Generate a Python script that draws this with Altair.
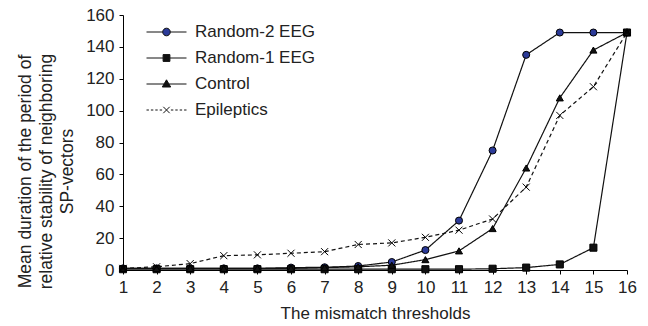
import altair as alt
import pandas as pd

thresholds = list(range(1, 17))
series_names = ["Random-2 EEG", "Random-1 EEG", "Control", "Epileptics"]
random2 = [1, 1, 1, 1, 1, 1.5, 1.7, 2.5, 5, 12.5, 31, 75, 135, 149, 149, 149]
random1 = [0.5, 0.5, 0.5, 0.5, 0.5, 0.5, 0.5, 0.5, 0.5, 0.5, 0.5, 0.8, 1.5, 3.5, 14, 149]
control = [1, 1, 1, 1, 1, 1, 1.5, 2, 3, 6.5, 12, 26, 64, 108, 138, 149]
epileptics = [1, 2, 4, 9, 9.5, 10.5, 11.5, 16, 17, 20.5, 25, 32, 52, 97, 115, 149]

y_ticks = [0, 20, 40, 60, 80, 100, 120, 140, 160]
x_title = "The mismatch thresholds"
y_title = ["Mean duration of the period of", "relative stability of neighboring", "SP-vectors"]

rows = []
for name, vals in zip(series_names, [random2, random1, control, epileptics]):
    for t, v in zip(thresholds, vals):
        rows.append({"threshold": t, "value": v, "series": name})
df = pd.DataFrame(rows)

X_PATH = "M-1,-1L1,1M-1,1L1,-1"
marker_shapes = ["circle", "square", "triangle-up", X_PATH]
marker_fills = ["#2b3a98", "#111111", "#111111", "transparent"]
dash_range = [[1, 0], [1, 0], [1, 0], [4, 3]]

legend_shapes = [
    "M-1,0L-0.19,0M0.19,0L1,0M0.19,0A0.19,0.19,0,1,1,-0.19,0A0.19,0.19,0,1,1,0.19,0Z",
    "M-1,0L-0.17,0M0.17,0L1,0M-0.17,-0.17L0.17,-0.17L0.17,0.17L-0.17,0.17Z",
    "M-1,0L-0.12,0M0.12,0L1,0M0,-0.21L0.21,0.15L-0.21,0.15Z",
    "M-1,0L-0.88,0M-0.78,0L-0.66,0M-0.56,0L-0.44,0M-0.34,0L-0.22,0"
    "M0.22,0L0.34,0M0.44,0L0.56,0M0.66,0L0.78,0M0.88,0L1,0"
    "M-0.16,-0.16L0.16,0.16M-0.16,0.16L0.16,-0.16",
]

FONT = "Liberation Sans"
TXT = "#222222"

x_enc = alt.X(
    "threshold:Q",
    scale=alt.Scale(domain=[1, 16], nice=False, zero=False),
    axis=alt.Axis(
        values=thresholds, format="d", tickSize=4, labelPadding=5,
        labelFontSize=17, labelColor=TXT, labelFont=FONT,
        title=x_title, titleFontSize=17, titleFontWeight="normal",
        titleColor=TXT, titleFont=FONT, titlePadding=10,
        grid=False, domainColor="black", tickColor="black",
        labelFlush=False, labelOverlap=False,
    ),
)
y_enc = alt.Y(
    "value:Q",
    scale=alt.Scale(domain=[0, 160], nice=False),
    axis=alt.Axis(
        values=y_ticks, tickSize=4, labelPadding=5,
        labelFontSize=17, labelColor=TXT, labelFont=FONT,
        title=y_title, titleFontSize=17.5, titleFontWeight="normal",
        titleColor=TXT, titleFont=FONT, titleLineHeight=21,
        titleAngle=270, titleBaseline="middle", titleAlign="center",
        titleX=-98, titleY=156,
        grid=False, domainColor="black", tickColor="black",
        labelFlush=False, labelOverlap=False,
    ),
)

lines = alt.Chart(df).mark_line(color="#111111", strokeWidth=1.2).encode(
    x=x_enc, y=y_enc,
    strokeDash=alt.StrokeDash("series:N", scale=alt.Scale(domain=series_names, range=dash_range), legend=None),
)

point_layers = []
for name, shp, fll in zip(series_names, marker_shapes, marker_fills):
    point_layers.append(
        alt.Chart(df).transform_filter(alt.datum.series == name).mark_point(
            filled=True, fill=fll, stroke="black", strokeWidth=1, size=50, opacity=1, shape=shp
        ).encode(x=x_enc, y=y_enc)
    )

leg = dict(
    title=None, orient="none", legendX=23, legendY=5,
    symbolSize=1600, symbolStrokeWidth=1, symbolStrokeColor="black",
    labelFontSize=17, labelFont=FONT, labelColor=TXT, labelOffset=8,
    labelLimit=400, rowPadding=2, clipHeight=24,
)
legend_layer = alt.Chart(df).transform_filter("datum.value < -1000").mark_point(
    filled=True, stroke="black", strokeWidth=1, opacity=1
).encode(
    x=x_enc, y=y_enc,
    shape=alt.Shape("series:N", scale=alt.Scale(domain=series_names, range=legend_shapes), legend=alt.Legend(**leg)),
    fill=alt.Fill("series:N", scale=alt.Scale(domain=series_names, range=marker_fills), legend=alt.Legend(**leg)),
    stroke=alt.Stroke("series:N", scale=alt.Scale(domain=series_names, range=["#111111"] * 4), legend=alt.Legend(**leg)),
)

chart = alt.layer(lines, *point_layers, legend_layer).resolve_scale(
    shape="independent", fill="independent", stroke="independent", strokeDash="independent"
).properties(
    width=504, height=255,
    padding={"left": 123, "top": 15, "right": 21, "bottom": 56},
    autosize=alt.AutoSizeParams(type="none"),
    background="white",
).configure_view(stroke=None)

chart.save("out.html", embed_options={"renderer": "svg", "actions": False})
